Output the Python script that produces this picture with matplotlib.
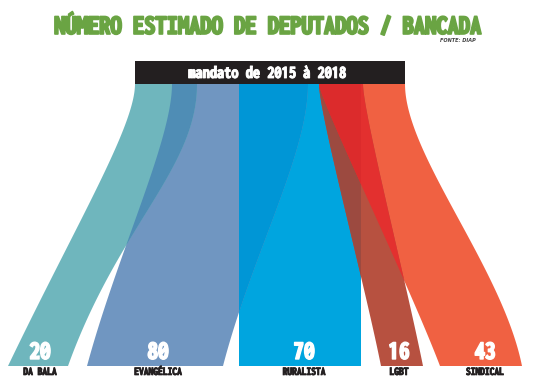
import os
import numpy as np
import matplotlib
matplotlib.use("Agg")
import matplotlib.pyplot as plt
import matplotlib.patheffects as pe
from matplotlib.path import Path
from matplotlib.patches import PathPatch, Rectangle
from matplotlib import font_manager as fm

# ---------------- data ----------------
categories = ["DA BALA", "EVANGÉLICA", "RURALISTA", "LGBT", "SINDICAL"]
deputados = [20, 80, 70, 16, 43]
title_text = "NÚMERO ESTIMADO DE DEPUTADOS / BANCADA"
subtitle_text = "mandato de 2015 à 2018"
source_text = "FONTE: DIAP"

# ---------------- styles ----------------
colors = {
    "DA BALA": "#6fb6bd",
    "EVANGÉLICA": "#7096c1",
    "RURALISTA": "#00a5df",
    "LGBT": "#b75140",
    "SINDICAL": "#f06142",
}
overlap_colors = {
    ("DA BALA", "EVANGÉLICA"): "#4f8db5",
    ("EVANGÉLICA", "RURALISTA"): "#0096d6",
    ("LGBT", "RURALISTA"): "#9c4a40",
    ("LGBT", "SINDICAL"): "#e3302f",
    ("LGBT", "SINDICAL", "RURALISTA"): "#dc2b2c",
}
TITLE_GREEN = "#6aa443"
DARK = "#231f20"

# ---------------- layout (pixel space) ----------------
W, H = 535, 380
Y_TOP, Y_BOT = 84, 366
# edge spec: (x_top, x_bottom, top_tangent_len, bottom_tangent_len, bottom_slope dx/dy)
layout = {
    "DA BALA":    dict(L=(135, 8, 0.15, 0.5, -0.48), R=(197, 68, 0.30, 0.5, -0.36)),
    "EVANGÉLICA": dict(L=(172, 87, 0.20, 0.4, -0.27), R=(308, 223, 0.25, 0.4, -0.26)),
    "RURALISTA":  dict(L=(239, 239, 0.3, 0.3, 0.0), R=(361, 361, 0.3, 0.3, 0.0)),
    "LGBT":       dict(L=(319, 381, 0.10, 0.3, 0.20), R=(363, 423, 0.10, 0.3, 0.20)),
    "SINDICAL":   dict(L=(319, 440, 0.05, 0.3, 0.38), R=(405, 522, 0.25, 0.35, 0.20)),
}
label_x = [40, 158, 304, 399, 485]
label_w = [34, 50, 44, 21, 38]
CYAN_RIGHT = layout["RURALISTA"]["R"][0]


def pick_font(prefs, exclude=("extracondensed", "semicondensed", "ultracondensed",
                               "italic", "cjk", "mono")):
    files = sorted({f.fname for f in fm.fontManager.ttflist})
    for p in prefs:
        for fn in files:
            b = os.path.basename(fn).lower()
            if p in b and not any(e in b for e in exclude):
                return fm.FontProperties(fname=fn)
    return fm.FontProperties(family="DejaVu Sans", weight="bold", stretch="condensed")


FP = pick_font(["condensedblack", "condensedextrabold", "condensedbold",
                "condensed-bold", "narrow-bold", "narrowbold"])


def edge(x0, x1, a, b, s, n=80):
    h = Y_BOT - Y_TOP
    P = np.array([[x0, Y_TOP], [x0, Y_TOP + a * h],
                  [x1 - s * b * h, Y_BOT - b * h], [x1, Y_BOT]], float)
    t = np.linspace(0, 1, n)[:, None]
    return ((1 - t) ** 3) * P[0] + 3 * ((1 - t) ** 2) * t * P[1] \
        + 3 * (1 - t) * (t ** 2) * P[2] + (t ** 3) * P[3]


def flow_path(name, clip_right=None):
    spec = layout[name]
    l = edge(*spec["L"])
    r = edge(*spec["R"])
    verts = np.vstack([l, r[::-1], l[:1]])
    if clip_right is not None:
        verts[:, 0] = np.minimum(verts[:, 0], clip_right)
    codes = [Path.MOVETO] + [Path.LINETO] * (len(verts) - 2) + [Path.CLOSEPOLY]
    return Path(verts, codes)


fig = plt.figure(figsize=(W / 100, H / 100), dpi=100)
ax = fig.add_axes([0, 0, 1, 1])
ax.set_xlim(0, W)
ax.set_ylim(H, 0)
ax.axis("off")

patches = {}


def add(name, color, clip_right=None, clip_with=None, z=1):
    p = PathPatch(flow_path(name, clip_right), facecolor=color, edgecolor="none",
                  lw=0, zorder=z)
    ax.add_patch(p)
    if clip_with is not None:
        p.set_clip_path(patches[clip_with])
    return p


patches["RURALISTA"] = add("RURALISTA", colors["RURALISTA"], z=1)
patches["EVANGÉLICA"] = add("EVANGÉLICA", colors["EVANGÉLICA"], z=2)
add("EVANGÉLICA", overlap_colors[("EVANGÉLICA", "RURALISTA")], clip_with="RURALISTA", z=3)
patches["DA BALA"] = add("DA BALA", colors["DA BALA"], z=4)
add("DA BALA", overlap_colors[("DA BALA", "EVANGÉLICA")], clip_with="EVANGÉLICA", z=5)
patches["SINDICAL"] = add("SINDICAL", colors["SINDICAL"], z=6)
patches["LGBT"] = add("LGBT", colors["LGBT"], z=7)
add("LGBT", overlap_colors[("LGBT", "RURALISTA")], clip_right=CYAN_RIGHT, z=8)
add("LGBT", overlap_colors[("LGBT", "SINDICAL")], clip_with="SINDICAL", z=9)
add("LGBT", overlap_colors[("LGBT", "SINDICAL", "RURALISTA")], clip_right=CYAN_RIGHT,
    clip_with="SINDICAL", z=10)

# black header bar
ax.add_patch(Rectangle((135, 61), 270, Y_TOP - 61, facecolor=DARK, edgecolor="none", zorder=20))

renderer = fig.canvas.get_renderer()
CAP = 0.714 * 100 / 72  # cap height in px per pt


def fitted_text(x, y, s, width, cap, color, stroke=0.0, fp=FP, ha="center", z=30):
    f = fp.copy()
    f.set_size(10)
    t = ax.text(x, y, s, fontproperties=f, color=color, ha=ha, va="baseline", zorder=z)
    w = t.get_window_extent(renderer).width
    fs = min(10 * (width - stroke) / w, cap / CAP)
    t.set_fontsize(fs)
    if stroke > 0:
        t.set_path_effects([pe.withStroke(linewidth=stroke, foreground=color)])
    return t


fitted_text(268, 34, title_text, 424, 21, TITLE_GREEN, stroke=1.2)
fitted_text(268, 78, subtitle_text, 157, 13.5, "white", stroke=0.6)
fi = fm.FontProperties(family="DejaVu Sans", weight="bold", style="italic", size=3.6)
ax.text(476, 42, source_text, fontproperties=fi, color="#444444", ha="right",
        va="baseline", zorder=30)

for i, (cat, val) in enumerate(zip(categories, deputados)):
    fitted_text(label_x[i], 359, str(val), 26 if val >= 20 else 24, 19, "white", stroke=1.0)
    fitted_text(label_x[i], 375, cat.upper(), label_w[i], 8.5, DARK, stroke=0.5)

fig.savefig("out.png", dpi=100, facecolor="white")
